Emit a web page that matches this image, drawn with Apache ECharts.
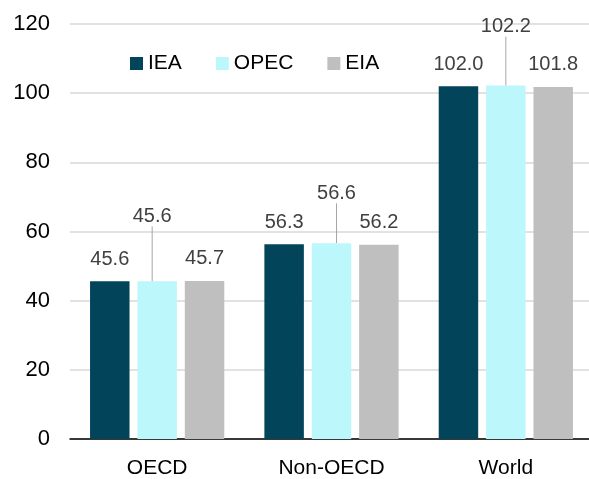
<!DOCTYPE html>
<html>
<head>
<meta charset="utf-8">
<script src="https://cdn.jsdelivr.net/npm/echarts@6/dist/echarts.min.js"></script>
<style>
  html, body { margin: 0; padding: 0; background: #fff; overflow: hidden; }
  /* plot area runs slightly past the right edge of the window */
  #chart { width: 593px; height: 479px; }
</style>
</head>
<body>
<div id="chart"></div>
<script>
// Oil demand by region (mb/d), three agencies
const categories = ['OECD', 'Non-OECD', 'World'];
const seriesNames = ['IEA', 'OPEC', 'EIA'];
const ieaValues = [45.6, 56.3, 102.0];
const opecValues = [45.6, 56.6, 102.2];
const eiaValues = [45.7, 56.2, 101.8];
const yTicks = [0, 20, 40, 60, 80, 100, 120];

const colors = ['#02445A', '#BCF7FC', '#BFBFBF'];
const FONT = 'Liberation Sans, Arial, sans-serif';

// OPEC labels are lifted above their neighbours and tied back with a leader line
const opecLabelShift = [
  { dx: -5, dy: -43 },
  { dx: 5, dy: -28 },
  { dx: 0, dy: -37 }
];

const labelBase = {
  show: true,
  position: 'top',
  distance: 12,
  fontFamily: FONT,
  fontSize: 20,
  color: '#404040',
  formatter: p => p.value.toFixed(1)
};

function barSeries(name, values, idx) {
  const s = {
    name: name,
    type: 'bar',
    data: values,
    barGap: '20%',
    barCategoryGap: '23%',
    itemStyle: { color: colors[idx] },
    label: labelBase
  };
  if (name === 'OPEC') {
    s.labelLine = { show: true, lineStyle: { color: '#A6A6A6', width: 1 } };
    s.labelLayout = p => opecLabelShift[p.dataIndex];
  }
  return s;
}

const chart = echarts.init(document.getElementById('chart'));
chart.setOption({
  animation: false,
  backgroundColor: '#ffffff',
  textStyle: { fontFamily: FONT },
  grid: { left: 70, right: 0, top: 24, bottom: 40 },
  legend: {
    data: seriesNames,
    top: 48,
    left: 125,
    itemWidth: 13,
    itemHeight: 13,
    itemGap: 34,
    icon: 'rect',
    textStyle: { fontFamily: FONT, fontSize: 21, color: '#000' }
  },
  xAxis: {
    type: 'category',
    data: categories,
    axisLine: { show: true, lineStyle: { color: '#000', width: 1.5 } },
    axisTick: { show: false },
    axisLabel: { fontFamily: FONT, fontSize: 21, color: '#000', margin: 19 }
  },
  yAxis: {
    type: 'value',
    min: yTicks[0],
    max: yTicks[yTicks.length - 1],
    interval: yTicks[1] - yTicks[0],
    axisLine: { show: false },
    axisTick: { show: false },
    splitLine: { lineStyle: { color: '#D9D9D9', width: 1.5 } },
    axisLabel: { fontFamily: FONT, fontSize: 22, color: '#000', margin: 20 }
  },
  series: [
    barSeries('IEA', ieaValues, 0),
    barSeries('OPEC', opecValues, 1),
    barSeries('EIA', eiaValues, 2)
  ]
});
</script>
</body>
</html>
